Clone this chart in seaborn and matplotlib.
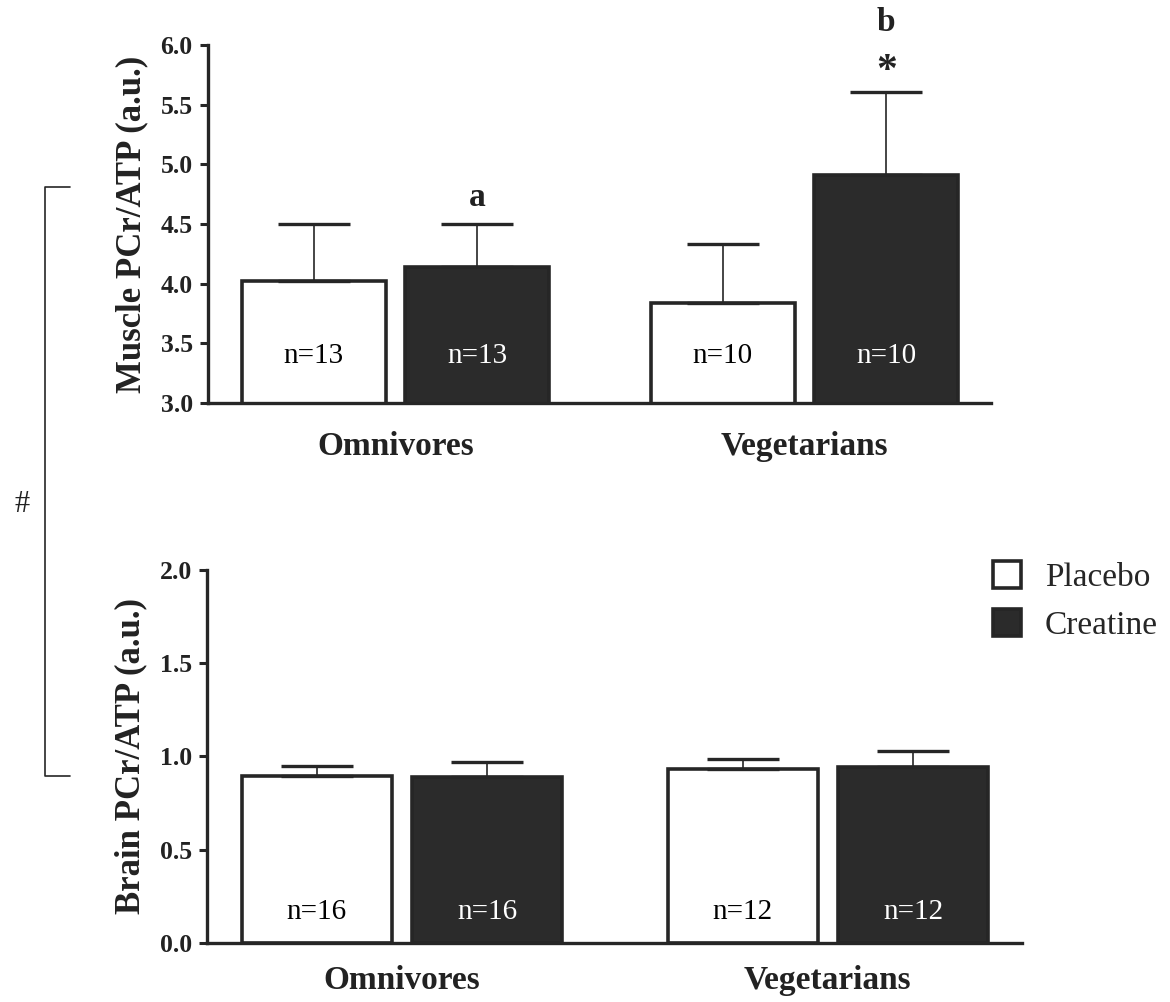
import pandas as pd
import matplotlib
matplotlib.use("Agg")
import matplotlib.pyplot as plt
import seaborn as sns
from matplotlib.patches import Patch
from matplotlib.lines import Line2D

# values (mean and upper error)
diets = ["Omnivores", "Vegetarians"]
groups = ["Placebo", "Creatine"]

muscle_mean = {"Placebo": [4.02, 3.84], "Creatine": [4.14, 4.91]}
muscle_err = {"Placebo": [0.48, 0.49], "Creatine": [0.36, 0.70]}
muscle_n = {"Placebo": ["n=13", "n=10"], "Creatine": ["n=13", "n=10"]}

brain_mean = {"Placebo": [0.895, 0.932], "Creatine": [0.89, 0.941]}
brain_err = {"Placebo": [0.054, 0.056], "Creatine": [0.08, 0.088]}
brain_n = {"Placebo": ["n=16", "n=12"], "Creatine": ["n=16", "n=12"]}

muscle_marks = {("Creatine", 0): ["a"], ("Creatine", 1): ["*", "b"]}

sns.set_style("ticks")
plt.rcParams["font.family"] = ["Liberation Serif", "DejaVu Serif"]

DARK = "#2b2b2b"
EDGE = "#262626"
palette = {"Placebo": "white", "Creatine": DARK}


def make_df(means):
    rows = []
    for g in groups:
        for d, v in zip(diets, means[g]):
            rows.append({"diet": d, "group": g, "value": v})
    return pd.DataFrame(rows)


def draw_panel(ax, means, errs, ns, ylim, yticks, ylabel, n_y, xpad):
    df = make_df(means)
    sns.barplot(data=df, x="diet", y="value", hue="group", order=diets,
                hue_order=groups, palette=palette, edgecolor=EDGE,
                linewidth=2.6, width=0.8, gap=0.12, errorbar=None,
                legend=False, ax=ax)
    centers = {}
    for g, cont in zip(groups, ax.containers):
        xs = [p.get_x() + p.get_width() / 2 for p in cont.patches]
        centers[g] = xs
        ax.errorbar(xs, means[g], yerr=[[0] * len(xs), errs[g]], fmt="none",
                    ecolor=EDGE, elinewidth=1.2, capsize=26, capthick=2.4,
                    zorder=4)
        for x, lab in zip(xs, ns[g]):
            ax.text(x, n_y, lab, ha="center", va="center", fontsize=21,
                    color="white" if g == "Creatine" else "black", zorder=5)
    ax.set_ylim(*ylim)
    ax.set_xlim(-0.458, 1.456)
    ax.set_yticks(yticks)
    ax.set_yticklabels([f"{t:.1f}" for t in yticks], fontweight="bold",
                       fontsize=18.5, color="#222222")
    ax.set_xticks(range(len(diets)))
    ax.set_xticklabels(diets, fontweight="bold", fontsize=24, color="#222222")
    ax.set_xlabel("")
    ax.set_ylabel(ylabel, fontweight="bold", fontsize=25, color="#222222",
                  labelpad=9)
    ax.tick_params(axis="y", length=6, width=2.2, color=EDGE, pad=5)
    ax.tick_params(axis="x", length=0, pad=xpad)
    sns.despine(ax=ax)
    for s in ["left", "bottom"]:
        ax.spines[s].set_linewidth(2.4)
        ax.spines[s].set_color(EDGE)
    return centers


fig = plt.figure(figsize=(11.70, 10.02), dpi=100)
ax1 = fig.add_axes([0.1778, 0.5978, 0.6692, 0.3573])
ax2 = fig.add_axes([0.1769, 0.0589, 0.6966, 0.3723])

c1 = draw_panel(ax1, muscle_mean, muscle_err, muscle_n, (3.0, 6.0),
                [3.0, 3.5, 4.0, 4.5, 5.0, 5.5, 6.0],
                "Muscle PCr/ATP (a.u.)", 3.39, 20)
draw_panel(ax2, brain_mean, brain_err, brain_n, (0.0, 2.0),
           [0.0, 0.5, 1.0, 1.5, 2.0], "Brain PCr/ATP (a.u.)", 0.166, 16)

# significance letters above the creatine bars
mark_y = {"a": 4.72, "*": 5.77, "b": 6.19}
for (g, i), labs in muscle_marks.items():
    for lab in labs:
        ax1.text(c1[g][i], mark_y[lab], lab, ha="center", va="center",
                 fontweight="bold", fontsize=30 if lab == "*" else 24,
                 color="#222222", clip_on=False)

# bracket and '#' on the left
bx, btop, bbot, bend = 45 / 1170, 1 - 187 / 1002, 1 - 776 / 1002, 70 / 1170
fig.add_artist(Line2D([bend, bx, bx, bend], [btop, btop, bbot, bbot],
                      transform=fig.transFigure, color=EDGE, lw=1.2))
fig.text(22 / 1170, 1 - 505 / 1002, "#", ha="center", va="center",
         fontsize=22, color="#222222")

handles = [Patch(facecolor=palette[g], edgecolor=EDGE, linewidth=2.6)
           for g in groups]
fig.legend(handles, groups, loc="upper left",
           bbox_to_anchor=(993 / 1170, 1 - 561 / 1002), frameon=False,
           fontsize=24, handlelength=0.85, handleheight=0.85,
           handletextpad=0.7, labelspacing=0.5, borderpad=0,
           borderaxespad=0)

fig.savefig("out.png", dpi=100, facecolor="white")
